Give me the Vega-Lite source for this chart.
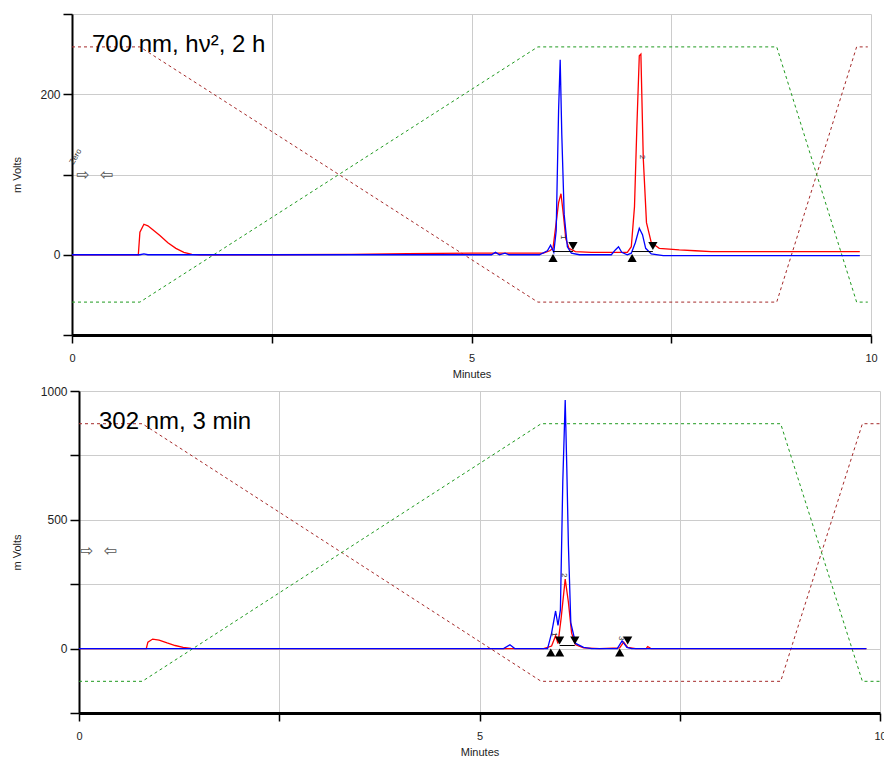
{
  "$schema": "https://vega.github.io/schema/vega-lite/v6.json",
  "padding": {"top": 8, "left": 10, "right": 0, "bottom": 0},
  "background": "white",
  "spacing": 6,
  "config": {
    "view": {"stroke": null},
    "concat": {"spacing": 0},
    "axis": {
      "domainColor": "#000000",
      "tickColor": "#000000",
      "tickWidth": 1.5,
      "gridColor": "#cccccc",
      "gridWidth": 1,
      "labelFont": "Liberation Sans",
      "labelFontSize": 12,
      "labelColor": "#222222",
      "titleFont": "Liberation Sans",
      "titleFontSize": 11,
      "titleFontWeight": "normal",
      "titleColor": "#222222",
      "labelFlush": false,
      "labelOverlap": false
    },
    "axisX": {"domainWidth": 3, "tickSize": 8, "labelPadding": 9, "titlePadding": 5, "labelFontSize": 11},
    "axisY": {"domainWidth": 2, "tickSize": 9, "labelPadding": 3, "format": "d"}
  },
  "resolve": {"scale": {"x": "independent", "y": "independent"}},
  "datasets": {
    "spacer": [],
    "top": [
      {"t": 0, "v": 259, "s": "gradA"}, {"t": 0.85, "v": 259, "s": "gradA"}, {"t": 5.83, "v": -59, "s": "gradA"}, {"t": 8.82, "v": -59, "s": "gradA"}, {"t": 9.82, "v": 259, "s": "gradA"}, {"t": 9.96, "v": 259, "s": "gradA"},
      {"t": 0, "v": -59, "s": "gradB"}, {"t": 0.85, "v": -59, "s": "gradB"}, {"t": 5.83, "v": 259, "s": "gradB"}, {"t": 8.82, "v": 259, "s": "gradB"}, {"t": 9.82, "v": -59, "s": "gradB"}, {"t": 9.96, "v": -59, "s": "gradB"},
      {"t": 0, "v": 0, "s": "ch1"}, {"t": 0.83, "v": 0, "s": "ch1"}, {"t": 0.85, "v": 28, "s": "ch1"}, {"t": 0.9, "v": 38, "s": "ch1"}, {"t": 0.95, "v": 36, "s": "ch1"}, {"t": 1.0, "v": 32, "s": "ch1"}, {"t": 1.1, "v": 24, "s": "ch1"}, {"t": 1.2, "v": 15, "s": "ch1"}, {"t": 1.3, "v": 8, "s": "ch1"}, {"t": 1.4, "v": 3, "s": "ch1"}, {"t": 1.5, "v": 0.5, "s": "ch1"}, {"t": 1.6, "v": 0, "s": "ch1"}, {"t": 2.5, "v": 0, "s": "ch1"}, {"t": 3.5, "v": 0.5, "s": "ch1"}, {"t": 4.2, "v": 1.5, "s": "ch1"}, {"t": 5.0, "v": 2, "s": "ch1"}, {"t": 5.5, "v": 2, "s": "ch1"}, {"t": 5.9, "v": 2, "s": "ch1"}, {"t": 5.98, "v": 5, "s": "ch1"}, {"t": 6.02, "v": 8, "s": "ch1"}, {"t": 6.06, "v": 40, "s": "ch1"}, {"t": 6.09, "v": 65, "s": "ch1"}, {"t": 6.12, "v": 76, "s": "ch1"}, {"t": 6.15, "v": 50, "s": "ch1"}, {"t": 6.18, "v": 20, "s": "ch1"}, {"t": 6.22, "v": 8, "s": "ch1"}, {"t": 6.3, "v": 4, "s": "ch1"}, {"t": 6.5, "v": 3, "s": "ch1"}, {"t": 6.8, "v": 3, "s": "ch1"}, {"t": 6.95, "v": 3, "s": "ch1"}, {"t": 7.0, "v": 10, "s": "ch1"}, {"t": 7.04, "v": 60, "s": "ch1"}, {"t": 7.07, "v": 160, "s": "ch1"}, {"t": 7.1, "v": 248, "s": "ch1"}, {"t": 7.12, "v": 250, "s": "ch1"}, {"t": 7.15, "v": 120, "s": "ch1"}, {"t": 7.19, "v": 40, "s": "ch1"}, {"t": 7.25, "v": 15, "s": "ch1"}, {"t": 7.35, "v": 8, "s": "ch1"}, {"t": 7.6, "v": 6, "s": "ch1"}, {"t": 7.8, "v": 5, "s": "ch1"}, {"t": 8.0, "v": 4, "s": "ch1"}, {"t": 9.86, "v": 4, "s": "ch1"},
      {"t": 0, "v": 0, "s": "ch2"}, {"t": 0.85, "v": 0, "s": "ch2"}, {"t": 0.9, "v": 1, "s": "ch2"}, {"t": 0.95, "v": 0, "s": "ch2"}, {"t": 5.25, "v": 0, "s": "ch2"}, {"t": 5.3, "v": 3, "s": "ch2"}, {"t": 5.35, "v": 0, "s": "ch2"}, {"t": 5.42, "v": 2, "s": "ch2"}, {"t": 5.47, "v": 0, "s": "ch2"}, {"t": 5.85, "v": 0, "s": "ch2"}, {"t": 5.95, "v": 5, "s": "ch2"}, {"t": 5.99, "v": 12, "s": "ch2"}, {"t": 6.03, "v": 3, "s": "ch2"}, {"t": 6.06, "v": 30, "s": "ch2"}, {"t": 6.09, "v": 180, "s": "ch2"}, {"t": 6.11, "v": 243, "s": "ch2"}, {"t": 6.13, "v": 150, "s": "ch2"}, {"t": 6.16, "v": 50, "s": "ch2"}, {"t": 6.2, "v": 10, "s": "ch2"}, {"t": 6.25, "v": 2, "s": "ch2"}, {"t": 6.35, "v": 0, "s": "ch2"}, {"t": 6.75, "v": 0, "s": "ch2"}, {"t": 6.8, "v": 6, "s": "ch2"}, {"t": 6.84, "v": 10, "s": "ch2"}, {"t": 6.88, "v": 3, "s": "ch2"}, {"t": 6.95, "v": 0, "s": "ch2"}, {"t": 7.0, "v": 2, "s": "ch2"}, {"t": 7.05, "v": 15, "s": "ch2"}, {"t": 7.1, "v": 33, "s": "ch2"}, {"t": 7.14, "v": 25, "s": "ch2"}, {"t": 7.18, "v": 8, "s": "ch2"}, {"t": 7.25, "v": 1, "s": "ch2"}, {"t": 7.4, "v": -1, "s": "ch2"}, {"t": 9.86, "v": -1, "s": "ch2"},
      {"t": 6.02, "v": -4, "s": "up"}, {"t": 6.27, "v": 11, "s": "down"}, {"t": 7.01, "v": -4, "s": "up"}, {"t": 7.27, "v": 11, "s": "down"},
      {"t": 6.02, "t2": 6.27, "v": 4, "s": "base"}, {"t": 7.01, "t2": 7.27, "v": 4, "s": "base"},
      {"t": 0.25, "v": 253, "s": "title", "txt": "700 nm, hν², 2 h", "size": 24, "angle": 0},
      {"t": 0.14, "v": 100, "s": "arrow", "txt": "⇨", "size": 16, "angle": 0},
      {"t": 0.43, "v": 100, "s": "arrow", "txt": "⇦", "size": 16, "angle": 0},
      {"t": 0.05, "v": 122, "s": "note", "txt": "Zero", "size": 8, "angle": 300},
      {"t": 6.14, "v": 22, "s": "note", "txt": "1", "size": 8, "angle": 90},
      {"t": 7.14, "v": 122, "s": "note", "txt": "2", "size": 8, "angle": 90}
    ],
    "bottom": [
      {"t": 0, "v": 873, "s": "gradA"}, {"t": 0.79, "v": 873, "s": "gradA"}, {"t": 5.77, "v": -127, "s": "gradA"}, {"t": 8.76, "v": -127, "s": "gradA"}, {"t": 9.78, "v": 873, "s": "gradA"}, {"t": 10, "v": 873, "s": "gradA"},
      {"t": 0, "v": -127, "s": "gradB"}, {"t": 0.79, "v": -127, "s": "gradB"}, {"t": 5.77, "v": 873, "s": "gradB"}, {"t": 8.76, "v": 873, "s": "gradB"}, {"t": 9.78, "v": -127, "s": "gradB"}, {"t": 10, "v": -127, "s": "gradB"},
      {"t": 0, "v": 0, "s": "ch1"}, {"t": 0.84, "v": 0, "s": "ch1"}, {"t": 0.86, "v": 25, "s": "ch1"}, {"t": 0.92, "v": 37, "s": "ch1"}, {"t": 1.0, "v": 33, "s": "ch1"}, {"t": 1.1, "v": 22, "s": "ch1"}, {"t": 1.2, "v": 12, "s": "ch1"}, {"t": 1.3, "v": 5, "s": "ch1"}, {"t": 1.4, "v": 1, "s": "ch1"}, {"t": 1.5, "v": 0, "s": "ch1"}, {"t": 5.8, "v": 0, "s": "ch1"}, {"t": 5.9, "v": 10, "s": "ch1"}, {"t": 5.95, "v": 50, "s": "ch1"}, {"t": 5.98, "v": 20, "s": "ch1"}, {"t": 6.02, "v": 120, "s": "ch1"}, {"t": 6.07, "v": 270, "s": "ch1"}, {"t": 6.11, "v": 180, "s": "ch1"}, {"t": 6.15, "v": 60, "s": "ch1"}, {"t": 6.2, "v": 15, "s": "ch1"}, {"t": 6.3, "v": 3, "s": "ch1"}, {"t": 6.5, "v": 0, "s": "ch1"}, {"t": 6.75, "v": 3, "s": "ch1"}, {"t": 6.8, "v": 25, "s": "ch1"}, {"t": 6.85, "v": 5, "s": "ch1"}, {"t": 6.95, "v": 0, "s": "ch1"}, {"t": 7.08, "v": 0, "s": "ch1"}, {"t": 7.1, "v": 8, "s": "ch1"}, {"t": 7.14, "v": 0, "s": "ch1"}, {"t": 9.83, "v": 0, "s": "ch1"},
      {"t": 0, "v": 0, "s": "ch2"}, {"t": 5.3, "v": 0, "s": "ch2"}, {"t": 5.38, "v": 15, "s": "ch2"}, {"t": 5.44, "v": 0, "s": "ch2"}, {"t": 5.85, "v": 0, "s": "ch2"}, {"t": 5.9, "v": 60, "s": "ch2"}, {"t": 5.95, "v": 146, "s": "ch2"}, {"t": 5.98, "v": 90, "s": "ch2"}, {"t": 6.01, "v": 150, "s": "ch2"}, {"t": 6.04, "v": 650, "s": "ch2"}, {"t": 6.07, "v": 965, "s": "ch2"}, {"t": 6.09, "v": 700, "s": "ch2"}, {"t": 6.11, "v": 400, "s": "ch2"}, {"t": 6.14, "v": 100, "s": "ch2"}, {"t": 6.2, "v": 20, "s": "ch2"}, {"t": 6.3, "v": 5, "s": "ch2"}, {"t": 6.4, "v": 0, "s": "ch2"}, {"t": 6.72, "v": 0, "s": "ch2"}, {"t": 6.78, "v": 30, "s": "ch2"}, {"t": 6.84, "v": 5, "s": "ch2"}, {"t": 6.9, "v": 0, "s": "ch2"}, {"t": 9.83, "v": 0, "s": "ch2"},
      {"t": 5.89, "v": -15, "s": "up"}, {"t": 6.0, "v": -15, "s": "up"}, {"t": 6.0, "v": 31, "s": "down"}, {"t": 6.19, "v": 31, "s": "down"}, {"t": 6.75, "v": -15, "s": "up"}, {"t": 6.85, "v": 31, "s": "down"},
      {"t": 6.0, "t2": 6.19, "v": 12, "s": "base"},
      {"t": 0.25, "v": 854, "s": "title", "txt": "302 nm, 3 min", "size": 24, "angle": 0},
      {"t": 0.1, "v": 377, "s": "arrow", "txt": "⇨", "size": 16, "angle": 0},
      {"t": 0.39, "v": 377, "s": "arrow", "txt": "⇦", "size": 16, "angle": 0},
      {"t": 5.93, "v": 55, "s": "note", "txt": "1", "size": 8, "angle": 90},
      {"t": 6.06, "v": 285, "s": "note", "txt": "2", "size": 8, "angle": 90},
      {"t": 6.77, "v": 40, "s": "note", "txt": "3", "size": 8, "angle": 90}
    ]
  },
  "vconcat": [
    {
      "hconcat": [
        {"width": 1, "height": 1, "data": {"name": "spacer"}, "mark": "point", "encoding": {}},
        {
          "width": 799,
          "height": 321,
          "data": {"name": "top"},
          "encoding": {
            "x": {"field": "t", "type": "quantitative", "scale": {"domain": [0, 10], "nice": false, "zero": false},
              "axis": {"title": "Minutes", "values": [0, 2.5, 5, 7.5, 10], "labelExpr": "datum.value % 5 == 0 ? datum.label : ''"}},
            "y": {"field": "v", "type": "quantitative", "scale": {"domain": [-100, 300], "nice": false, "zero": false},
              "axis": {"title": "m Volts", "titlePadding": 17, "values": [-100, 0, 100, 200, 300], "labelExpr": "datum.value % 200 == 0 ? datum.label : ''"}}
          },
          "layer": [
            {"transform": [{"filter": "datum.s == 'gradA'"}], "mark": {"type": "line", "color": "#a52a2a", "strokeWidth": 1, "strokeDash": [3, 3], "clip": true}},
            {"transform": [{"filter": "datum.s == 'gradB'"}], "mark": {"type": "line", "color": "#1f9a1f", "strokeWidth": 1, "strokeDash": [3, 3], "clip": true}},
            {"transform": [{"filter": "datum.s == 'ch1'"}], "mark": {"type": "line", "color": "#ff0000", "strokeWidth": 1.3, "clip": true}},
            {"transform": [{"filter": "datum.s == 'ch2'"}], "mark": {"type": "line", "color": "#0000ff", "strokeWidth": 1.3, "clip": true}},
            {"transform": [{"filter": "datum.s == 'base'"}], "mark": {"type": "rule", "color": "#000000", "strokeWidth": 1}, "encoding": {"x2": {"field": "t2"}}},
            {"transform": [{"filter": "datum.s == 'up' || datum.s == 'down'"}], "mark": {"type": "point", "filled": true, "color": "#000000", "opacity": 1, "size": 85},
              "encoding": {"shape": {"field": "s", "type": "nominal", "scale": {"domain": ["up", "down"], "range": ["triangle-up", "triangle-down"]}, "legend": null}}},
            {"transform": [{"filter": "datum.s == 'title'"}], "mark": {"type": "text", "align": "left", "baseline": "alphabetic", "font": "Liberation Sans", "color": "#000000"},
              "encoding": {"text": {"field": "txt"}, "size": {"field": "size", "type": "quantitative", "scale": null}}},
            {"transform": [{"filter": "datum.s == 'arrow'"}], "mark": {"type": "text", "align": "center", "baseline": "middle", "font": "DejaVu Sans", "color": "#555555"},
              "encoding": {"text": {"field": "txt"}, "size": {"field": "size", "type": "quantitative", "scale": null}}},
            {"transform": [{"filter": "datum.s == 'note'"}], "mark": {"type": "text", "align": "center", "baseline": "middle", "font": "Liberation Sans", "color": "#333333"},
              "encoding": {"text": {"field": "txt"}, "size": {"field": "size", "type": "quantitative", "scale": null}, "angle": {"field": "angle", "type": "quantitative", "scale": null}}}
          ]
        }
      ]
    },
    {
      "hconcat": [
        {"width": 1, "height": 1, "data": {"name": "spacer"}, "mark": "point", "encoding": {}},
        {
          "width": 801,
          "height": 322,
          "data": {"name": "bottom"},
          "encoding": {
            "x": {"field": "t", "type": "quantitative", "scale": {"domain": [0, 10], "nice": false, "zero": false},
              "axis": {"title": "Minutes", "values": [0, 2.5, 5, 7.5, 10], "labelExpr": "datum.value % 5 == 0 ? datum.label : ''"}},
            "y": {"field": "v", "type": "quantitative", "scale": {"domain": [-250, 1000], "nice": false, "zero": false},
              "axis": {"title": "m Volts", "titlePadding": 18, "values": [-250, 0, 250, 500, 750, 1000], "labelExpr": "datum.value % 500 == 0 ? datum.label : ''"}}
          },
          "layer": [
            {"transform": [{"filter": "datum.s == 'gradA'"}], "mark": {"type": "line", "color": "#a52a2a", "strokeWidth": 1, "strokeDash": [3, 3], "clip": true}},
            {"transform": [{"filter": "datum.s == 'gradB'"}], "mark": {"type": "line", "color": "#1f9a1f", "strokeWidth": 1, "strokeDash": [3, 3], "clip": true}},
            {"transform": [{"filter": "datum.s == 'ch1'"}], "mark": {"type": "line", "color": "#ff0000", "strokeWidth": 1.3, "clip": true}},
            {"transform": [{"filter": "datum.s == 'ch2'"}], "mark": {"type": "line", "color": "#0000ff", "strokeWidth": 1.3, "clip": true}},
            {"transform": [{"filter": "datum.s == 'base'"}], "mark": {"type": "rule", "color": "#000000", "strokeWidth": 1}, "encoding": {"x2": {"field": "t2"}}},
            {"transform": [{"filter": "datum.s == 'up' || datum.s == 'down'"}], "mark": {"type": "point", "filled": true, "color": "#000000", "opacity": 1, "size": 85},
              "encoding": {"shape": {"field": "s", "type": "nominal", "scale": {"domain": ["up", "down"], "range": ["triangle-up", "triangle-down"]}, "legend": null}}},
            {"transform": [{"filter": "datum.s == 'title'"}], "mark": {"type": "text", "align": "left", "baseline": "alphabetic", "font": "Liberation Sans", "color": "#000000"},
              "encoding": {"text": {"field": "txt"}, "size": {"field": "size", "type": "quantitative", "scale": null}}},
            {"transform": [{"filter": "datum.s == 'arrow'"}], "mark": {"type": "text", "align": "center", "baseline": "middle", "font": "DejaVu Sans", "color": "#555555"},
              "encoding": {"text": {"field": "txt"}, "size": {"field": "size", "type": "quantitative", "scale": null}}},
            {"transform": [{"filter": "datum.s == 'note'"}], "mark": {"type": "text", "align": "center", "baseline": "middle", "font": "Liberation Sans", "color": "#333333"},
              "encoding": {"text": {"field": "txt"}, "size": {"field": "size", "type": "quantitative", "scale": null}, "angle": {"field": "angle", "type": "quantitative", "scale": null}}}
          ]
        }
      ]
    }
  ]
}
